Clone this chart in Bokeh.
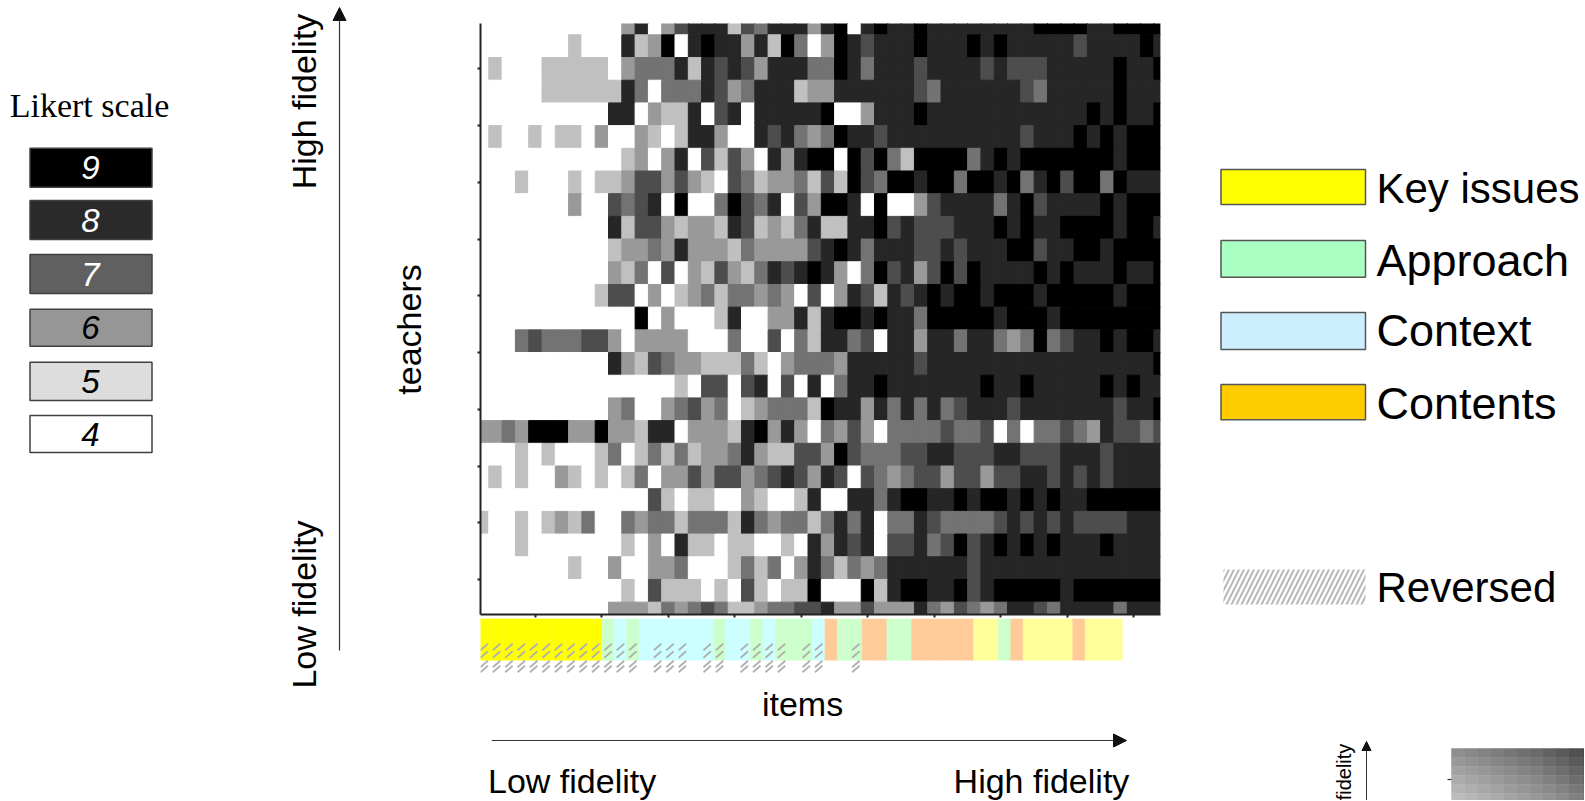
from bokeh.plotting import figure
from bokeh.layouts import row, column
from bokeh.models import (Range1d, Arrow, NormalHead, Label, LinearAxis, FixedTicker, ColumnDataSource, Span)
from bokeh.core.properties import value
from bokeh.embed import file_html
from bokeh.resources import INLINE
import math

# ---------- data ----------
heat_rows = [
 "WWWWWWWWWWWMNWMKNNNLKDNNNMNBWNBNNBNNNNNNNNBBBBNNBBBB",
 "WWWWWWWLWWWNLMBWNBNNMNLBDWMBNKNNNBNNNBNBNNNNNKNNNNBN",
 "WLWWWLLLLLWMDDDNLNKNKMNNNDDBNDNNNKNNNNKNKKKNNNNNBNNB",
 "WWWWWLLLLLLNDWDDDNKMDNNNLMMNNNNNNKDNNNNNNKDNNNNNBNNN",
 "WWWWWWWWWWNNWMLLNWKNWNNNNNBWWMNNNBNNNNNNNNNNNNBNBNNB",
 "WLWWLWLLWMWWMLWLNNMWWNKNDMDBNNKNNNNNNNNNNKNNNBNBNBBB",
 "WWWWWWWWWWWLMWMNWKLKMWNMNBBWBKBDLBBBBDNBNBBBBBBBNBBB",
 "WWWLWWWLWLLMKKMKMLWKDLMMDLKLBKDBBNBBDBBNBDNBKBBDBNNN",
 "WWWWWWWMWWKDKNWBWWDBKDNWKMBBNWBWWMKNNNNDNBKNNNNBNBBB",
 "WWWWWWWWWWNLKKMLMMLNKLMLDNLLNNBKNKKKNNNBNBNNBBBBNBBN",
 "WWWWWWWWWWLMMDMNMMMLDMMMMKNBNDNNNKKNKNNNBBKNNBBNBBBB",
 "WWWWWWWWWWMLDWKWMLKMLDNKNBNMWDBKNMKBKBNNNNBNBNNNBNNB",
 "WWWWWWWWWLKKWMWLMDLDDMDMWKWMNKLNKNBNBBNBBBNBBBBBNBBB",
 "WWWWWWWWWWWWBWMWWWLNWWMMNLNBBNBNNDBBBBBNBBBNBBBBBBBB",
 "WWWDKDDDKKMWMMMMWWWDWWKWDLNNDKWNNMNNDNNDMDBDKNNBNBBN",
 "WWWWWWWWWWNMLKDMMLLLDLWMDDDMNNNNNKNNNNNNNNNNNNNNNNNB",
 "WWWWWWWWWWWWWWWLWKKWKNWKWNWDNNBNNNNNNNBNNBNNNNNBNBNN",
 "WWWWWWWWWWMDWWMDKMDWLMDDDLBNNMNDNDNDKNNNKNNNNNNNKNNB",
 "MMDMBBBMMBMMLNNWMMMLNBMNMWDMKMWDDDDKDDKWDWDDKDMNKKDK",
 "WWWLWLWWWLDWLDLDLMMDNMLLKKMBKDDDKKNNKKKNNKKKNNNKNNNN",
 "WLWLWWMLWLWLDWMMKMKKMDKNKMNKWKDMDKKMKKMKKNNKNKNKNNNN",
 "WWWWWWWWWWWWWKLWLLWWMLWWLNWWNNDNBBNNBNBBNBNBNNBBBBBB",
 "LWWLWLMLDWWDMDDLDDDLNDMDDLDNDNWDDNKDDDDKNKNKNKKKKNNN",
 "WWWLWWWWWWWLWMWNLLWLLWWLWNMNKNWKKNDKBKNBNBNBNNNBNNNN",
 "WWWWWWWLWWMWWMMDWWWLDLDWMNDLDMDNNNNNNKNNNNNNNNNNNNNN",
 "WWWWWWWWWWWLWKLLLWLWKLWLLBWWWBLNBBNNBKNBBBBBNBBBBBBB",
 "WWWWWWWWWWMMMLDMDKDLLMDDKKNMMKMMMNDMKDMDNNKDNNNNDNNN",
]
shade_colors = {"W": "#ffffff", "L": "#c0c0c0", "M": "#999999", "D": "#737373",
                "K": "#4d4d4d", "N": "#262626", "B": "#000000"}
strip_categories = "YYYYYYYYYYgcgccccccgccgcgggcoggooggoooooyygoyyyyoyyy"
strip_colors = {"Y": "#ffff00", "y": "#ffff99", "g": "#ccffcc", "c": "#ccffff", "o": "#ffcc99"}
reversed_items = [1, 2, 3, 4, 5, 6, 7, 8, 9, 10, 11, 12, 13, 15, 16, 17, 19, 20, 22, 23, 24, 25, 27, 28, 31]
likert_levels = ["9", "8", "7", "6", "5", "4"]
likert_fill = ["#000000", "#2a2a2a", "#606060", "#969696", "#dddddd", "#ffffff"]
likert_text = ["#ffffff", "#ffffff", "#ffffff", "#000000", "#000000", "#000000"]
legend_labels = ["Key issues", "Approach", "Context", "Contents", "Reversed"]
legend_sizes = [42, 45, 45, 45, 42]
legend_fill = ["#ffff00", "#aaffc3", "#cceeff", "#ffcc00"]
x_ticks = [5, 10, 15, 20, 25, 30, 35, 40, 45, 50]
y_ticks = [2.5, 5, 7.5, 10, 12.5, 15, 17.5, 20, 22.5, 25]
inset_gray = [
 [0x8e, 0x88, 0x82, 0x7c, 0x76, 0x70, 0x6a, 0x62, 0x5a, 0x50, 0x4a],
 [0x98, 0x92, 0x8c, 0x86, 0x80, 0x7a, 0x74, 0x6c, 0x64, 0x5a, 0x54],
 [0xa2, 0x9c, 0x96, 0x90, 0x8a, 0x84, 0x7e, 0x76, 0x6e, 0x64, 0x5e],
 [0xac, 0xa6, 0xa0, 0x9a, 0x94, 0x8e, 0x88, 0x80, 0x78, 0x6e, 0x68],
 [0xb4, 0xae, 0xa8, 0xa2, 0x9c, 0x96, 0x90, 0x8a, 0x82, 0x78, 0x72],
 [0xbc, 0xb6, 0xb0, 0xaa, 0xa4, 0x9e, 0x98, 0x92, 0x8a, 0x80, 0x7a],
]

# ---------- layout (page pixels) ----------
SANS, SERIF = "Liberation Sans", "Liberation Serif"
PAGE_B = 800
LEFT_R, CENTER_R, PAGE_R = 440, 1200, 1584
FR_L, FR_R, FR_T, FR_B = 480, 1160, 23, 614
STRIP_T = 618

def base(width, height, xr, yr, **kw):
    p = figure(width=width, height=height, x_range=xr, y_range=yr, toolbar_location=None,
               output_backend="svg", x_axis_type=None, y_axis_type=None,
               min_border=0, outline_line_color=None, **kw)
    p.grid.visible = False
    return p

def txt(p, x, y, s, size, font=SANS, color="#000000", angle=0.0, align="center", style="normal"):
    p.text([x], [y], text=[s], text_font=value(font), text_font_size=f"{size}px", text_color=color,
           angle=angle, text_align=align, text_baseline="middle", text_font_style=style)

# ---------- left panel ----------
left = base(LEFT_R, PAGE_B, Range1d(0, LEFT_R), Range1d(PAGE_B, 0))
txt(left, 89, 105, "Likert scale", 34, font=SERIF)
lik_top = [147.7, 200, 254, 308.7, 361.7, 415]
lik_bot = [186.7, 239, 293, 345.7, 400, 452]
left.quad(left=[29.5] * 6, right=[151.5] * 6, top=lik_top, bottom=lik_bot, fill_color=likert_fill,
          line_color="#404040", line_width=1.5)
for t, b, s, c in zip(lik_top, lik_bot, likert_levels, likert_text):
    txt(left, 90, (t + b) / 2, s, 33, color=c, style="italic")
txt(left, 303, 101, "High fidelity", 34, angle=math.pi / 2)
txt(left, 303, 604, "Low fidelity", 34, angle=math.pi / 2)
txt(left, 408, 329, "teachers", 34, angle=math.pi / 2)
left.add_layout(Arrow(end=NormalHead(size=13, fill_color="#111111", line_color="#111111"),
                      x_start=339, y_start=650, x_end=339, y_end=7, line_color="#333333", line_width=1.2))

# ---------- heat map ----------
cw = 13.3
rows_n = len(heat_rows)
xs, ys, cs = [], [], []
for r, line in enumerate(heat_rows):
    for c, ch in enumerate(line):
        xs.append(c + 1)
        ys.append(rows_n - r)
        cs.append(shade_colors[ch])
heat_x = Range1d(1 - (481.65 - FR_L) / cw, 52)
heat_y = Range1d(0.956, 27)
heat = base(CENTER_R - LEFT_R, STRIP_T, heat_x, heat_y)
heat.min_border_left = FR_L - LEFT_R
heat.min_border_right = CENTER_R - FR_R
heat.min_border_top = FR_T
heat.min_border_bottom = STRIP_T - FR_B
heat.rect(x="x", y="y", width=1, height=1, fill_color="c", line_color="c", line_width=1,
          source=ColumnDataSource(dict(x=xs, y=ys, c=cs)))
for ticks, side in ((x_ticks, "below"), (y_ticks, "left")):
    ax = LinearAxis(ticker=FixedTicker(ticks=ticks), major_label_text_color=None, major_label_text_font_size="1px",
                    major_label_standoff=0, major_tick_in=0, major_tick_out=3, axis_line_color="#222222",
                    axis_line_width=2, major_tick_line_color="#222222", major_tick_line_width=2,
                    minor_tick_line_color=None)
    heat.add_layout(ax, side)
heat.add_layout(Span(location=52, dimension="height", line_color="#b8b8b8", line_width=1))

# ---------- category strip ----------
sw, s0 = 13.12, 477.3
strip = base(CENTER_R - LEFT_R, PAGE_B - STRIP_T,
             Range1d((FR_L - s0) / sw, (CENTER_R - s0) / sw), Range1d(PAGE_B, STRIP_T))
strip.min_border_left = FR_L - LEFT_R
n = len(strip_categories)
sc = [strip_colors[c] for c in strip_categories]
strip.quad(left=[i for i in range(n)], right=[i + 1 for i in range(n)], top=[618.3] * n, bottom=[659.7] * n,
           fill_color=sc, line_color=sc, line_width=0.5)
hx0, hx1, hy0, hy1 = [], [], [], []
for k in reversed_items:
    for yc in (646.5, 654, 663.5, 668.5):
        hx0.append(k - 0.5 - 0.3)
        hx1.append(k - 0.5 + 0.3)
        hy0.append(yc + 3.2)
        hy1.append(yc - 3.2)
strip.segment(hx0, hy0, hx1, hy1, line_color="#b0b0b0", line_width=1.8)

def sx(px):
    return (px - s0) / sw

def lab(x, y, s, align="center"):
    strip.add_layout(Label(x=sx(x), y=y, text=s, text_font=SANS, text_font_size="34px", text_color="#000000",
                           text_align=align, text_baseline="middle"))

lab(821, 703, "items")
lab(488, 780, "Low fidelity", "left")
lab(1167, 780, "High fidelity", "right")
strip.add_layout(Arrow(end=NormalHead(size=13, fill_color="#111111", line_color="#111111"),
                       x_start=sx(492), y_start=740, x_end=sx(1164), y_end=740,
                       line_color="#333333", line_width=1.2))

# ---------- right panel ----------
right = base(PAGE_R - CENTER_R, PAGE_B, Range1d(CENTER_R, PAGE_R), Range1d(PAGE_B, 0))
leg_top = [169, 240, 312, 384]
leg_bot = [204, 276.7, 349, 419.3]
right.quad(left=[1220.5] * 4, right=[1365] * 4, top=leg_top, bottom=leg_bot, fill_color=legend_fill,
           line_color="#555555", line_width=1.5)
for s, y, fs in zip(legend_labels, [188, 260, 330, 403, 587], legend_sizes):
    txt(right, 1376, y, s, fs, align="left")
right.quad(left=[1223], right=[1365], top=[569], bottom=[604], fill_color=None, line_color=None,
           hatch_pattern="right_diagonal_line", hatch_color="#b8b8b8", hatch_weight=2, hatch_scale=10)

# small inset cut off by the page edge
txt(right, 1343, 771.5, "fidelity", 20, angle=math.pi / 2)
right.add_layout(Arrow(end=NormalHead(size=9, fill_color="#111111", line_color="#111111"),
                       x_start=1366, y_start=800, x_end=1366, y_end=741,
                       line_color="#333333", line_width=1))
ix, iy, ic = [], [], []
for r, gray_row in enumerate(inset_gray):
    for c, g in enumerate(gray_row):
        ix.append(1451 + 13 * c)
        iy.append(748 + 9 * r)
        ic.append(f"#{g:02x}{g:02x}{g:02x}")
right.quad(left=ix, right=[v + 13 for v in ix], top=iy, bottom=[v + 9 for v in iy],
           fill_color=ic, line_color=ic, line_width=0.5)
right.segment([1447], [779], [1451], [779], line_color="#333333", line_width=1.2)

page = row(left, column(heat, strip, spacing=0), right, spacing=0)
open("out.html", "w").write(file_html(page, INLINE))
